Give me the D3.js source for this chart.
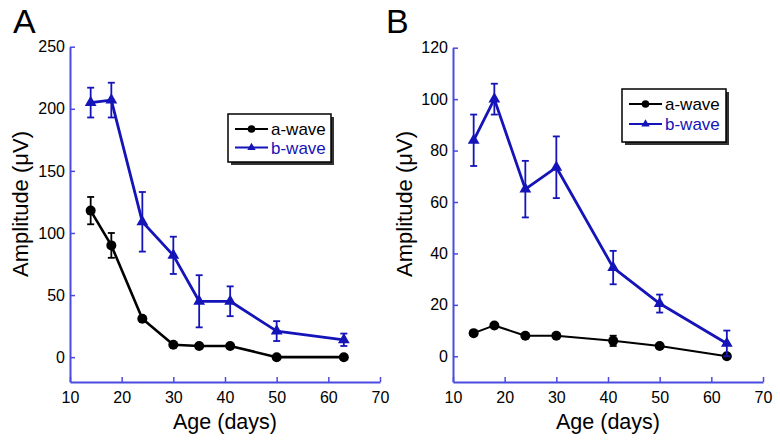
<!DOCTYPE html>
<html><head><meta charset="utf-8">
<script src="https://cdn.jsdelivr.net/npm/d3@7"></script>
<style>body{margin:0;background:#fff}svg{display:block}text{font-family:"Liberation Sans",Arial,sans-serif}</style>
</head><body>
<svg id="c" width="780" height="448"></svg>
<script>
// Panel A data
const agesA = [14, 18, 24, 30, 35, 41, 50, 63];
const aWaveA = [118, 90, 31, 10, 9, 9, 0, 0];
const aErrA = [11, 10, 0, 0, 0, 0, 0, 0];
const bWaveA = [205, 207, 109, 82, 45, 45, 21, 14];
const bErrA = [12, 14, 24, 15, 21, 12, 8, 5];
const yTicksA = [0, 50, 100, 150, 200, 250];
// Panel B data
const agesB = [14, 18, 24, 30, 41, 50, 63];
const aWaveB = [9, 12, 8, 8, 6, 4, 0];
const aErrB = [0, 0, 0, 0, 2, 0, 0];
const bWaveB = [84, 100, 65, 73.5, 34.5, 20.5, 5];
const bErrB = [10, 6, 11, 12, 6.5, 3.5, 5];
const yTicksB = [0, 20, 40, 60, 80, 100, 120];
const xTicks = [10, 20, 30, 40, 50, 60, 70];
const seriesNames = ["a-wave", "b-wave"];

const AXC = "#4a4ae0", BC = "#1414b8", AC = "#000";
const svg = d3.select("#c");

function panel(o) {
  const g = svg.append("g");
  const x = d3.scaleLinear().domain([10, 70]).range([o.x0, o.x1]);
  const y = d3.scaleLinear().domain(o.ydom).range([o.y0, o.y1]);
  const ax = g.append("g").attr("transform", `translate(0,${o.y0})`)
    .call(d3.axisTop(x).tickValues(xTicks).tickSize(5).tickSizeOuter(0).tickFormat(d3.format("d")));
  ax.selectAll("text").attr("y", 21).attr("dy", 0);
  const ay = g.append("g").attr("transform", `translate(${o.x0},0)`)
    .call(d3.axisRight(y).tickValues(o.yticks).tickSize(5).tickSizeOuter(0).tickFormat(d3.format("d")));
  ay.selectAll("text").attr("x", -5).attr("text-anchor", "end");
  [ax, ay].forEach(a => {
    a.select(".domain").attr("stroke", AXC).attr("stroke-width", 2);
    a.selectAll(".tick line").attr("stroke", AXC).attr("stroke-width", 1.5);
    a.selectAll("text").attr("fill", "#000").style("font-size", "16px").style("font-family", "Liberation Sans, Arial, sans-serif");
  });
  g.append("text").attr("x", (o.x0 + o.x1) / 2).attr("y", 429).attr("text-anchor", "middle")
    .style("font-size", "21.5px").text("Age (days)");
  g.append("text").attr("transform", `translate(${o.ylx},${o.yly}) rotate(-90)`).attr("text-anchor", "middle")
    .style("font-size", "22px").text("Amplitude (\u03bcV)");
  g.append("text").attr("x", o.lx).attr("y", 33).style("font-size", "34px").text(o.letter);

  const line = d3.line().x(d => x(d[0])).y(d => y(d[1]));
  function series(ages, vals, errs, color, lw, marker) {
    const pts = ages.map((a, i) => [a, vals[i], errs[i]]);
    g.append("path").datum(pts).attr("d", line).attr("fill", "none").attr("stroke", color)
      .attr("stroke-width", lw).attr("stroke-linejoin", "round");
    const eb = g.append("g").attr("stroke", color).attr("stroke-width", 1.8);
    pts.filter(p => p[2] > 0).forEach(p => {
      const cx = x(p[0]);
      eb.append("line").attr("x1", cx).attr("x2", cx).attr("y1", y(p[1] - p[2])).attr("y2", y(p[1] + p[2]));
      [p[1] - p[2], p[1] + p[2]].forEach(v => eb.append("line").attr("x1", cx - 3.5).attr("x2", cx + 3.5).attr("y1", y(v)).attr("y2", y(v)));
    });
    if (marker === "circle") {
      g.selectAll(null).data(pts).enter().append("circle").attr("cx", d => x(d[0])).attr("cy", d => y(d[1]))
        .attr("r", 5).attr("fill", color);
    } else {
      const sym = d3.symbol().type(d3.symbolTriangle).size(60);
      g.selectAll(null).data(pts).enter().append("path").attr("d", sym)
        .attr("transform", d => `translate(${x(d[0])},${y(d[1])})`).attr("fill", color);
    }
  }
  series(o.ages, o.a, o.ae, AC, o.alw, "circle");
  series(o.ages, o.b, o.be, BC, 2.8, "triangle");

  const L = o.leg;
  g.append("rect").attr("x", L.x + 3).attr("y", L.y + 3).attr("width", L.w).attr("height", L.h).attr("fill", "#333");
  g.append("rect").attr("x", L.x).attr("y", L.y).attr("width", L.w).attr("height", L.h)
    .attr("fill", "#fff").attr("stroke", "#000").attr("stroke-width", 1.5);
  const rows = [{c: AC, m: "circle"}, {c: BC, m: "tri"}];
  rows.forEach((r, i) => {
    const yy = L.y + 15 + i * L.dy;
    g.append("line").attr("x1", L.x + 7).attr("x2", L.x + 40).attr("y1", yy).attr("y2", yy)
      .attr("stroke", r.c).attr("stroke-width", 2);
    if (r.m === "circle") g.append("circle").attr("cx", L.x + 23.5).attr("cy", yy).attr("r", 3.8).attr("fill", r.c);
    else g.append("path").attr("d", d3.symbol().type(d3.symbolTriangle).size(30)).attr("transform", `translate(${L.x + 23.5},${yy})`).attr("fill", r.c);
    g.append("text").attr("x", L.x + 43).attr("y", yy + 6).style("font-size", "17px").attr("fill", r.c).text(seriesNames[i]);
  });
}

panel({x0: 70, x1: 380, y0: 382, y1: 46.7, ydom: [-20, 250], yticks: yTicksA,
  ages: agesA, a: aWaveA, ae: aErrA, b: bWaveA, be: bErrA, alw: 2.6,
  ylx: 28, yly: 204, lx: 13, letter: "A",
  leg: {x: 228, y: 114, w: 103, h: 48, dy: 18.5}});
panel({x0: 453, x1: 763, y0: 382, y1: 47.7, ydom: [-10, 120], yticks: yTicksB,
  ages: agesB, a: aWaveB, ae: aErrB, b: bWaveB, be: bErrB, alw: 2,
  ylx: 412, yly: 204, lx: 386, letter: "B",
  leg: {x: 622, y: 89, w: 104, h: 53, dy: 20}});
</script>
</body></html>
